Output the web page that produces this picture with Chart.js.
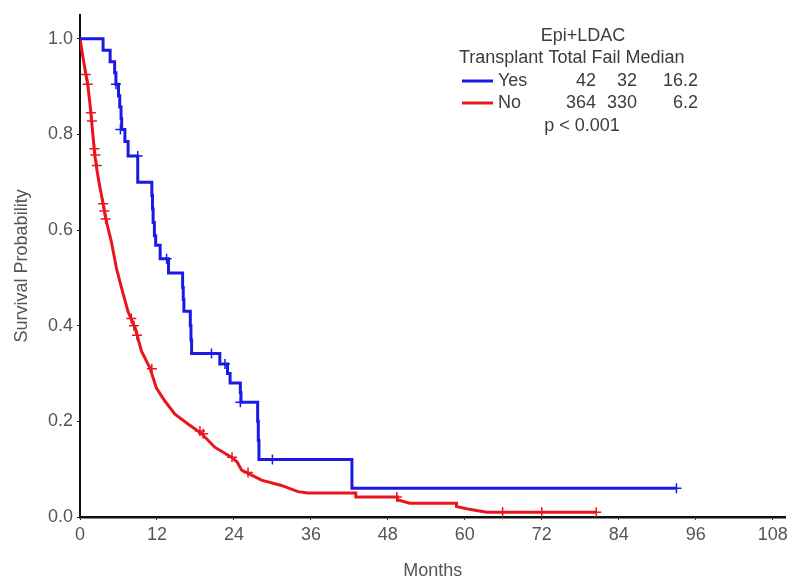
<!DOCTYPE html>
<html>
<head>
<meta charset="utf-8">
<script src="https://cdn.jsdelivr.net/npm/chart.js@4.4.1/dist/chart.umd.min.js"></script>
<style>
  html, body { margin: 0; padding: 0; background: #fff; }
  #wrap { width: 792px; height: 586px; }
</style>
</head>
<body>
<div id="wrap"><canvas id="km"></canvas></div>
<script>
    // survival steps (months, probability)
    const yesMonths = [0, 3.6, 4.7, 5.4, 5.6, 6.0, 6.2, 6.4, 6.5, 7.0, 7.5, 9.0, 11.2, 11.3, 11.4, 11.6, 11.8, 12.5, 13.8, 16.0, 16.1, 16.2, 17.2, 17.3, 17.4, 21.8, 23.0, 23.4, 25.0, 25.1, 27.7, 27.8, 27.9, 42.4, 93.0];
    const yesSurv   = [1.0, 0.976, 0.952, 0.929, 0.905, 0.881, 0.857, 0.833, 0.81, 0.785, 0.755, 0.70, 0.672, 0.644, 0.616, 0.588, 0.568, 0.54, 0.51, 0.48, 0.455, 0.43, 0.40, 0.37, 0.342, 0.32, 0.30, 0.28, 0.26, 0.24, 0.20, 0.16, 0.12, 0.06, 0.06];

    // "No" arm: many small steps early (read as a path), coarse steps in the tail
    const noMonths = [0, 0.3, 0.6, 0.9, 1.2, 1.5, 1.7, 2.0, 2.3, 2.7, 3.1, 3.6, 4.15, 4.9, 5.7, 6.5, 7.5, 8.6, 9.6, 10.9, 11.9, 13.2, 14.8, 16.9, 19.0, 21.0, 23.6, 24.5, 25.2, 28.3, 31.4, 34.0, 35.5, 43.0, 43.0, 49.5, 49.5, 51.4, 58.7, 58.7, 60.7, 63.4, 80.5];
    const noSurv   = [1.0, 0.975, 0.95, 0.927, 0.905, 0.87, 0.845, 0.80, 0.757, 0.72, 0.69, 0.655, 0.616, 0.575, 0.519, 0.478, 0.429, 0.395, 0.346, 0.312, 0.27, 0.243, 0.215, 0.194, 0.174, 0.146, 0.125, 0.115, 0.098, 0.077, 0.066, 0.053, 0.05, 0.05, 0.042, 0.042, 0.036, 0.029, 0.029, 0.022, 0.016, 0.01, 0.01];

    // censored observations (tick marks)
    const yesCensMonths = [5.6, 6.3, 9.0, 13.5, 20.5, 22.6, 25.0, 30.0, 93.0];
    const yesCensSurv   = [0.905, 0.81, 0.755, 0.54, 0.342, 0.32, 0.24, 0.12, 0.06];
    const noCensMonths = [0.9, 1.2, 1.7, 1.85, 2.25, 2.4, 2.6, 3.6, 3.8, 4.0, 8.0, 8.4, 8.9, 11.2, 18.7, 19.2, 23.7, 26.2, 49.4, 65.9, 72.0, 80.5];
    const noCensSurv   = [0.925, 0.905, 0.845, 0.828, 0.77, 0.757, 0.735, 0.655, 0.64, 0.623, 0.415, 0.40, 0.38, 0.31, 0.18, 0.174, 0.125, 0.093, 0.042, 0.01, 0.01, 0.01];

    const xTicks = [0, 12, 24, 36, 48, 60, 72, 84, 96, 108];
    const yTicks = [0, 0.2, 0.4, 0.6, 0.8, 1.0];

    // legend table
    const legendTitle = 'Epi+LDAC';
    const legendHeader = 'Transplant Total Fail Median';
    const groups = ['Yes', 'No'];
    const totals = ['42', '364'];
    const fails = ['32', '330'];
    const medians = ['16.2', '6.2'];
    const pText = 'p < 0.001';

    const BLUE = '#1a1ae6';
    const RED = '#e8161c';
    const FONT = "'Liberation Sans', Arial, sans-serif";
    const TEXT = '#3c3c3c';

    function pts(xs, ys) {
        return xs.map((x, i) => ({ x: x, y: ys[i] }));
    }

    const legendTable = {
        id: 'legendTable',
        afterDraw(chart) {
            const c = chart.ctx;
            c.save();
            c.font = '18px ' + FONT;
            c.fillStyle = TEXT;
            c.textBaseline = 'middle';
            c.textAlign = 'center';
            c.fillText(legendTitle, 583, 36);
            c.textAlign = 'left';
            c.fillText(legendHeader, 459, 58);
            const colors = [BLUE, RED];
            const rows = [81, 103];
            groups.forEach((g, i) => {
                const y = rows[i];
                c.strokeStyle = colors[i];
                c.lineWidth = 3;
                c.beginPath();
                c.moveTo(462, y);
                c.lineTo(493, y);
                c.stroke();
                c.textAlign = 'left';
                c.fillText(g, 498, y);
                c.textAlign = 'right';
                c.fillText(totals[i], 596, y);
                c.fillText(fails[i], 637, y);
                c.fillText(medians[i], 698, y);
            });
            c.textAlign = 'center';
            c.fillText(pText, 582, 126);
            c.restore();
        }
    };

    new Chart(document.getElementById('km'), {
        type: 'line',
        data: {
            datasets: [
                {
                    label: 'Yes',
                    data: pts(yesMonths, yesSurv),
                    borderColor: BLUE,
                    borderWidth: 3,
                    stepped: true,
                    pointRadius: 0,
                    fill: false
                },
                {
                    label: 'No',
                    data: pts(noMonths, noSurv),
                    borderColor: RED,
                    borderWidth: 3,
                    tension: 0,
                    pointRadius: 0,
                    fill: false
                },
                {
                    label: 'Yes censored',
                    data: pts(yesCensMonths, yesCensSurv),
                    showLine: false,
                    pointStyle: 'cross',
                    pointRadius: 5,
                    pointBorderWidth: 1.5,
                    pointBorderColor: BLUE,
                    pointBackgroundColor: BLUE
                },
                {
                    label: 'No censored',
                    data: pts(noCensMonths, noCensSurv),
                    showLine: false,
                    pointStyle: 'cross',
                    pointRadius: 5,
                    pointBorderWidth: 1.5,
                    pointBorderColor: RED,
                    pointBackgroundColor: RED
                }
            ]
        },
        options: {
            responsive: true,
            maintainAspectRatio: false,
            animation: false,
            layout: { padding: { top: 10, right: 5, left: 0, bottom: 0 } },
            plugins: {
                legend: { display: false },
                tooltip: { enabled: false }
            },
            scales: {
                x: {
                    type: 'linear',
                    min: 0,
                    max: 110,
                    afterBuildTicks: (s) => { s.ticks = xTicks.map(v => ({ value: v })); },
                    afterFit: (s) => { s.height = 69; },
                    border: { color: '#111', width: 2.5 },
                    grid: { drawOnChartArea: false, drawTicks: true, tickLength: 3, color: '#222' },
                    ticks: { color: '#555', font: { family: FONT, size: 18 }, padding: 4, maxRotation: 0 },
                    title: { display: true, text: 'Months', color: '#555', font: { family: FONT, size: 18 }, padding: { top: 8 } }
                },
                y: {
                    min: 0,
                    max: 1.05,
                    afterBuildTicks: (s) => { s.ticks = yTicks.map(v => ({ value: v })); },
                    afterFit: (s) => { s.width = 80; },
                    border: { color: '#111', width: 2 },
                    grid: { drawOnChartArea: false, drawTicks: true, tickLength: 3, color: '#222' },
                    ticks: { color: '#555', font: { family: FONT, size: 18 }, padding: 4, callback: (v) => Number(v).toFixed(1) },
                    title: { display: true, text: 'Survival Probability', color: '#555', font: { family: FONT, size: 18 }, padding: { top: 11, bottom: 0 } }
                }
            }
        },
        plugins: [legendTable]
    });
</script>
</body>
</html>
